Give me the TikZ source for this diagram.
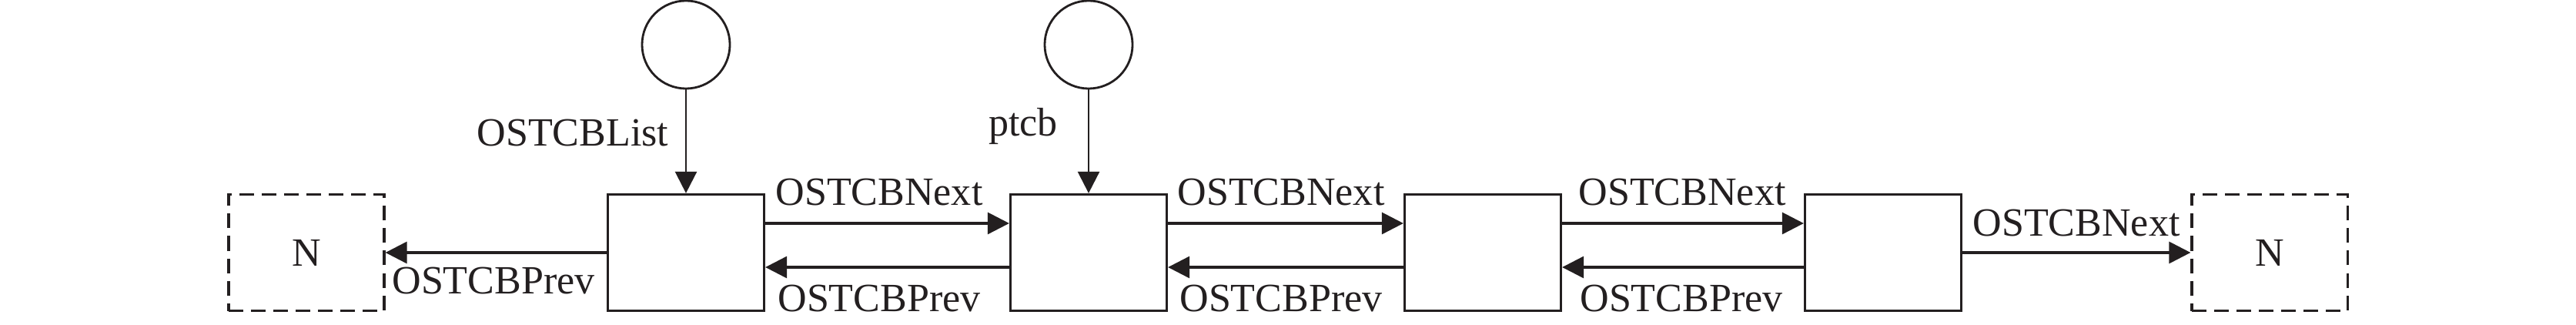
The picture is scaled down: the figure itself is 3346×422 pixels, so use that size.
\documentclass[tikz,border=0pt]{standalone}
\usepackage{fontspec}
\setmainfont{Liberation Serif}
\usetikzlibrary{arrows.meta}
\definecolor{ink}{HTML}{231F20}
\begin{document}
\begin{tikzpicture}[x=0.01cm,y=-0.01cm,
  every node/.style={text=ink},
  tcb/.style={draw=ink,line width=0.9pt,minimum width=2.03cm,minimum height=1.51cm,inner sep=0pt},
  nullbox/.style={draw=ink,line width=0.9pt,dash pattern=on 0.19cm off 0.1cm,minimum width=2.02cm,minimum height=1.51cm,inner sep=0pt,font=\fontsize{14.8pt}{17pt}\selectfont},
  ptr/.style={draw=ink,line width=0.8pt,circle,minimum size=1.14cm,inner sep=0pt},
  lbl/.style={font=\fontsize{14.8pt}{17pt}\selectfont,inner sep=0pt,anchor=base},
  arr/.style={draw=ink,line width=0.9pt,-{Triangle[length=0.28cm,width=0.28cm]}},
  varr/.style={draw=ink,line width=0.75pt,-{Triangle[length=0.28cm,width=0.28cm]}}
]
\useasboundingbox (0,0) rectangle (3346,422);
% boxes
\node[nullbox] (n1) at (398,328) {N};
\node[tcb] (b1) at (891,328) {};
\node[tcb] (b2) at (1414,328) {};
\node[tcb] (b3) at (1926,328) {};
\node[tcb] (b4) at (2446,328) {};
\node[nullbox] (n2) at (2948,328) {N};
% pointers
\node[ptr] (c1) at (891,58) {};
\node[ptr] (c2) at (1414,58) {};
\draw[varr] (c1) -- (b1);
\draw[varr] (c2) -- (b2);
\node[lbl] (lList) at (744,190) {OSTCBList};
\node[lbl] (lptcb) at (1329,177) {ptcb};
% next links
\draw[arr] ([yshift=0.38cm]b1.east) -- ([yshift=0.38cm]b2.west);
\draw[arr] ([yshift=0.38cm]b2.east) -- ([yshift=0.38cm]b3.west);
\draw[arr] ([yshift=0.38cm]b3.east) -- ([yshift=0.38cm]b4.west);
\draw[arr] (b4.east) -- (n2.west);
% prev links
\draw[arr] ([yshift=-0.19cm]b2.west) -- ([yshift=-0.19cm]b1.east);
\draw[arr] ([yshift=-0.19cm]b3.west) -- ([yshift=-0.19cm]b2.east);
\draw[arr] ([yshift=-0.19cm]b4.west) -- ([yshift=-0.19cm]b3.east);
\draw[arr] (b1.west) -- (n1.east);
% labels
\node[lbl] (ln1) at (1142,267) {OSTCBNext};
\node[lbl] (ln2) at (1664,267) {OSTCBNext};
\node[lbl] (ln3) at (2185,267) {OSTCBNext};
\node[lbl] (ln4) at (2697,307) {OSTCBNext};
\node[lbl] (lp0) at (641,382) {OSTCBPrev};
\node[lbl] (lp1) at (1142,405) {OSTCBPrev};
\node[lbl] (lp2) at (1664,405) {OSTCBPrev};
\node[lbl] (lp3) at (2184,405) {OSTCBPrev};
\end{tikzpicture}
\end{document}
